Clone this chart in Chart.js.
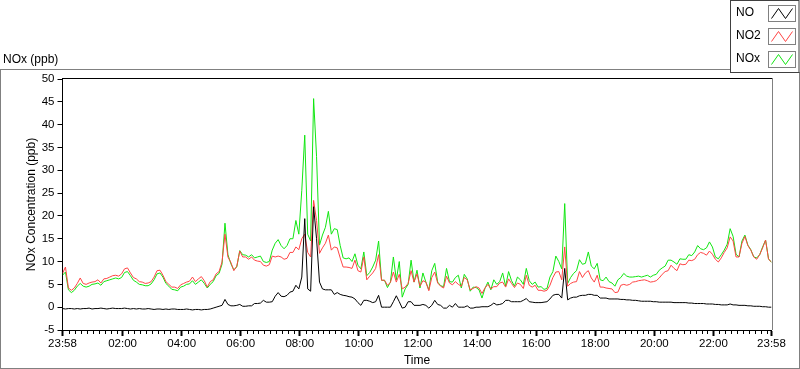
<!DOCTYPE html>
<html><head><meta charset="utf-8">
<script src="https://cdn.jsdelivr.net/npm/chart.js@4.4.1/dist/chart.umd.min.js"></script>
<style>html,body{margin:0;padding:0;background:#fff;overflow:hidden}canvas{display:block}</style>
</head><body>
<canvas id="c" width="800" height="369"></canvas>
<script>
// ---- data (minutes after 23:58, one reading every STEP_MIN minutes) ----
const STEP_MIN = 6;
const tickMinutes = [0,122,242,362,482,602,722,842,962,1082,1202,1322,1440];
const tickLabels = ['23:58','02:00','04:00','06:00','08:00','10:00','12:00','14:00','16:00','18:00','20:00','22:00','23:58'];
const yTickValues = [-5,0,5,10,15,20,25,30,35,40,45,50];
const seriesNames = ['NO','NO2','NOx'];
const seriesColors = ['#000000','#ff4444','#11e611'];

const no = [
-0.3,-0.4,-0.3,-0.3,-0.4,-0.3,-0.4,-0.3,-0.3,-0.2,
-0.4,-0.3,-0.3,-0.2,-0.3,-0.4,-0.3,-0.2,-0.3,-0.3,
-0.3,-0.2,-0.3,-0.4,-0.3,-0.4,-0.3,-0.4,-0.4,-0.3,
-0.4,-0.5,-0.4,-0.4,-0.5,-0.4,-0.5,-0.4,-0.4,-0.5,
-0.5,-0.5,-0.4,-0.5,-0.6,-0.5,-0.5,-0.6,-0.5,-0.5,
-0.4,-0.2,0.0,0.2,0.4,1.7,0.6,0.3,0.3,0.4,
0.6,0.2,0.2,0.3,0.3,0.8,0.8,0.9,1.5,1.1,
1.1,1.2,2.4,3.2,2.4,2.3,2.6,3.3,3.5,4.8,
4.0,6.6,19.4,4.0,3.5,22.0,15.0,5.5,4.0,3.8,
3.8,3.8,2.8,3.2,2.8,2.6,2.5,2.3,2.2,1.8,
1.0,0.4,1.5,1.5,1.3,1.0,1.2,2.6,0.0,0.0,
0.0,0.0,1.2,2.5,1.2,-0.2,0.0,1.2,1.2,0.4,
0.4,0.4,0.6,0.4,-0.2,0.4,1.5,0.6,0.4,-0.2,
-0.2,0.4,0.0,0.8,0.0,0.0,0.0,0.3,-0.2,-0.2,
0.0,0.0,0.1,0.1,0.1,0.4,0.9,0.5,0.6,0.8,
1.5,1.5,1.2,1.2,1.2,1.2,1.5,1.9,1.2,1.1,
1.0,1.0,1.0,1.1,1.2,1.8,2.6,2.8,2.8,2.0,
8.5,1.6,2.0,2.2,2.2,2.5,2.6,2.6,2.8,2.8,
2.6,2.6,2.0,2.0,2.0,1.8,1.8,1.8,1.8,1.7,
1.7,1.6,1.6,1.5,1.5,1.4,1.3,1.3,1.3,1.3,
1.2,1.2,1.1,1.1,1.1,1.1,1.1,1.0,1.0,1.0,
1.0,1.0,0.9,0.9,0.8,0.8,0.8,0.8,0.7,0.7,
0.7,0.6,0.6,0.5,0.5,0.5,0.7,0.5,0.5,0.4,
0.4,0.4,0.3,0.3,0.2,0.2,0.2,0.1,0.1,0.0,
0.0];

const no2 = [
7.4,8.8,4.2,3.7,4.2,5.2,6.4,5.2,5.0,5.3,
5.5,5.6,6.0,5.3,6.2,6.3,6.6,6.9,7.0,6.8,
7.3,8.4,8.6,7.5,6.5,6.2,5.6,5.5,5.2,5.3,
5.6,6.6,8.0,8.1,7.0,5.6,5.0,4.4,4.4,4.1,
4.9,5.2,5.5,5.7,6.6,5.6,6.2,6.7,5.8,4.4,
5.6,6.0,7.3,7.8,9.9,16.0,11.0,9.8,8.0,9.0,
12.3,11.0,11.0,10.5,11.0,10.3,10.1,10.0,9.2,9.0,
9.3,11.2,11.0,11.2,11.0,10.5,10.7,12.0,12.0,13.2,
12.6,15.0,16.0,12.0,11.0,23.4,19.0,11.8,13.0,14.0,
15.8,12.5,13.2,13.0,10.8,8.8,8.8,8.7,8.5,10.3,
8.0,7.7,11.0,6.0,6.8,7.5,8.5,11.5,5.9,5.9,
4.8,5.4,7.7,5.5,7.2,4.0,4.4,5.2,8.0,5.5,
7.3,4.6,5.8,5.5,3.6,6.5,7.7,5.3,4.6,4.2,
6.8,5.3,4.9,5.6,5.0,4.6,6.5,6.0,3.8,4.1,
4.5,4.2,3.0,4.2,5.0,4.0,4.5,4.5,5.3,5.5,
4.4,6.2,5.2,4.3,5.3,5.0,4.1,7.0,4.8,4.4,
4.8,3.7,3.7,3.5,3.7,4.8,6.5,7.7,7.8,6.0,
13.2,4.6,5.2,5.5,5.6,7.8,6.5,7.5,8.0,6.4,
5.5,7.0,4.4,4.4,4.2,4.1,4.0,3.2,3.3,4.8,
5.0,4.8,5.0,5.5,5.6,5.8,5.9,6.0,5.8,5.5,
5.6,5.8,6.4,7.2,7.8,8.0,9.2,8.5,8.0,9.5,
9.3,9.4,10.3,10.2,10.5,11.5,12.0,11.8,11.4,12.3,
11.6,10.5,9.9,10.8,12.0,13.0,15.4,14.5,11.0,11.0,
14.0,15.5,13.5,12.5,11.0,10.5,11.5,13.0,14.7,10.5,
9.9];

const nox = [
7.0,7.7,3.8,3.2,3.7,4.6,5.2,4.6,4.4,4.6,
5.0,5.1,5.3,4.8,5.6,5.8,6.0,6.2,6.4,6.2,
6.5,7.6,7.8,6.9,5.9,5.5,5.0,4.9,4.7,4.7,
5.1,6.0,7.3,7.5,6.6,5.2,4.6,3.9,3.8,3.6,
4.4,4.6,5.0,5.1,5.8,5.0,5.5,6.0,5.2,4.2,
5.0,5.6,6.9,7.4,9.4,18.4,11.5,9.5,8.2,8.8,
12.4,11.5,11.4,11.0,11.5,10.8,11.0,11.2,10.0,9.8,
10.0,12.5,14.0,14.8,13.5,12.8,13.5,15.0,15.0,19.0,
16.0,25.6,37.7,16.0,14.5,45.7,33.0,13.6,15.8,17.5,
21.0,16.0,17.2,17.0,13.5,10.8,10.6,10.8,10.0,11.7,
9.2,8.4,12.1,6.9,7.6,8.8,10.3,14.5,5.9,5.9,
4.3,5.5,11.0,6.0,10.0,2.2,4.0,5.0,10.3,5.5,
8.1,4.2,7.5,5.5,3.8,8.0,9.6,5.5,4.7,4.5,
8.5,5.6,5.5,6.5,7.0,4.2,7.2,6.2,3.5,4.4,
4.3,3.8,2.0,4.1,5.5,3.8,6.0,5.0,5.6,7.5,
4.6,7.8,5.8,4.6,6.6,6.0,5.0,8.5,5.8,5.0,
5.5,4.4,4.5,3.9,4.1,6.6,7.8,11.2,10.0,8.4,
22.7,5.2,6.5,7.4,8.0,10.4,9.4,9.6,12.1,9.0,
8.4,9.6,6.0,5.8,6.6,5.6,5.3,4.6,6.0,6.5,
7.4,6.8,6.6,6.6,6.7,6.8,6.6,6.8,7.0,6.6,
7.0,7.2,8.1,8.6,9.0,10.3,10.3,9.9,9.4,10.6,
10.5,10.5,11.5,11.3,12.1,13.5,12.8,12.6,13.0,14.3,
13.2,11.0,10.6,11.5,12.5,13.8,17.2,15.5,11.6,11.0,
14.5,15.8,13.6,12.6,11.0,10.8,11.5,13.2,14.7,10.6,
9.8];

// ---- chart ----
const FONT = "'Liberation Sans', Arial, sans-serif";
Chart.defaults.font.family = FONT;
Chart.defaults.color = '#000';

function toPoints(arr){ return arr.map((v,i)=>({x:i*STEP_MIN, y:v})); }
const seriesData = [no, no2, nox];

const minorTicks = [];
for (let k = 0; k < tickMinutes.length - 1; k++) {
  for (let m = tickMinutes[k] + 12; m < tickMinutes[k+1] - 3; m += 12) {
    if (k === 0) { /* first interval starts at 23:58; minors on clock multiples of 12 min */ }
    minorTicks.push(k === 0 ? m + 2 : m);
  }
}

const decor = {
  id: 'decor',
  beforeDraw(chart){
    const ctx = chart.ctx;
    ctx.save(); ctx.fillStyle = '#fff'; ctx.fillRect(0,0,chart.width,chart.height); ctx.restore();
  },
  afterDraw(chart){
    const ctx = chart.ctx, a = chart.chartArea, xs = chart.scales.x;
    ctx.save();
    // outer panel frame
    ctx.strokeStyle = '#808080'; ctx.lineWidth = 1;
    ctx.strokeRect(0.5, 69.5, 799, 299);
    // plot frame top / right
    ctx.strokeStyle = '#000';
    ctx.beginPath(); ctx.moveTo(Math.floor(a.left), 78.5); ctx.lineTo(772, 78.5); ctx.stroke();
    ctx.strokeStyle = '#808080';
    ctx.beginPath(); ctx.moveTo(772.5, 78); ctx.lineTo(772.5, a.bottom); ctx.stroke();
    // minor ticks
    ctx.strokeStyle = '#000';
    ctx.beginPath();
    minorTicks.forEach(m => {
      const px = Math.round(xs.getPixelForValue(m)) + 0.5;
      ctx.moveTo(px, a.bottom); ctx.lineTo(px, a.bottom + 4);
    });
    ctx.stroke();
    // graph caption
    ctx.fillStyle = '#000';
    ctx.font = '12px ' + FONT;
    ctx.textBaseline = 'middle'; ctx.textAlign = 'left';
    ctx.fillText('NOx (ppb)', 3, 59.5);
    // legend
    ctx.fillStyle = '#fff';
    ctx.fillRect(730, 0, 70, 72);
    ctx.strokeStyle = '#404040';
    ctx.strokeRect(730.5, 0.5, 68.5, 72);
    seriesNames.forEach((name, i) => {
      const cy = 13 + i * 23;
      ctx.fillStyle = '#000';
      ctx.fillText(name, 736, cy);
      const bx = 768.5, by = cy - 7.5;
      ctx.strokeStyle = '#808080'; ctx.lineWidth = 1;
      ctx.strokeRect(bx, by, 27, 16);
      ctx.strokeStyle = seriesColors[i];
      ctx.beginPath();
      ctx.moveTo(bx + 3, by + 13); ctx.lineTo(bx + 10, by + 3);
      ctx.lineTo(bx + 17, by + 13); ctx.lineTo(bx + 24, by + 3);
      ctx.stroke();
    });
    ctx.restore();
  }
};

new Chart(document.getElementById('c'), {
  type: 'line',
  data: {
    datasets: seriesNames.map((n, i) => ({
      label: n,
      data: toPoints(seriesData[i]),
      borderColor: seriesColors[i],
      borderWidth: 1,
      pointRadius: 0,
      tension: 0,
      fill: false
    }))
  },
  options: {
    responsive: false,
    animation: false,
    events: [],
    layout: { padding: { left: 0, right: 28.5, top: 79, bottom: 0 } },
    plugins: { legend: { display: false }, tooltip: { enabled: false } },
    scales: {
      x: {
        type: 'linear', min: 0, max: 1440,
        afterBuildTicks: s => { s.ticks = tickMinutes.map(v => ({ value: v })); },
        afterFit: s => { s.height = 39; },
        ticks: { autoSkip: false, maxRotation: 0, minRotation: 0, padding: 1, color: '#000',
                 font: { size: 11.5, family: FONT },
                 callback: (v, i) => tickLabels[i] },
        grid: { drawOnChartArea: false, drawTicks: true, tickLength: 6, tickWidth: 2, tickColor: '#000' },
        border: { display: true, color: '#000', width: 1 },
        title: { display: true, text: 'Time', color: '#000', font: { size: 12, family: FONT },
                 padding: { top: 0, bottom: 1 } }
      },
      y: {
        type: 'linear', min: -5, max: 50,
        afterBuildTicks: s => { s.ticks = yTickValues.map(v => ({ value: v })); },
        afterFit: s => { s.width = 62.5; },
        ticks: { padding: 3, color: '#000', font: { size: 11.5, family: FONT } },
        grid: { drawOnChartArea: false, drawTicks: true, tickLength: 5, tickColor: '#000' },
        border: { display: true, color: '#000', width: 1 },
        title: { display: true, text: 'NOx Concentration (ppb)', color: '#000',
                 font: { size: 12, family: FONT }, padding: { top: 24, bottom: 0 } }
      }
    }
  },
  plugins: [decor]
});
</script>
</body></html>
